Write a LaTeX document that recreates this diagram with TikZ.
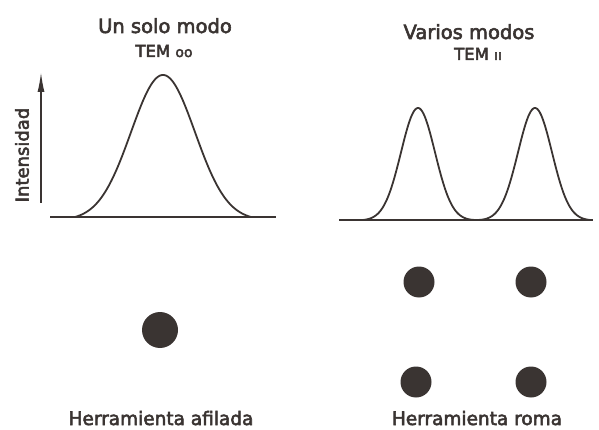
\documentclass[tikz,border=0pt]{standalone}
\usepackage{fontspec}
\setmainfont{DejaVu Sans}[FakeBold=3]
\usetikzlibrary{positioning,arrows.meta}
\definecolor{ink}{RGB}{58,52,50}

\begin{document}
\begin{tikzpicture}[x=1pt, y=-1pt, every node/.style={align=center, text=ink, inner sep=0pt},
    spot/.style={circle, fill=ink, inner sep=0pt}]
    \useasboundingbox (0,0) rectangle (599,430);

    \node[anchor=base, font=\fontsize{19.5}{20}\selectfont] (single) at (165,33) {Un solo modo};
    \node[anchor=base, font=\fontsize{16.5}{17}\selectfont] (singlemode) at (164,57) {TEM {\fontsize{14}{14}\selectfont oo}};
    \node[rotate=90, font=\fontsize{18}{18}\selectfont] (intensity) at (22,155) {Intensidad};
    \coordinate (axisbot) at (41,203);
    \coordinate (axistop) at (41,72);
    \draw[-{Latex[length=20pt,width=7pt]}, ink, line width=1.6pt] (axisbot) -- (axistop);

    \coordinate (leftA) at (50,217);
    \coordinate (leftB) at (276,217);
    \draw[ink, line width=1.8pt] (leftA) -- (leftB);
    \draw[ink, line width=1.8pt] plot[domain=7.5:25.1, samples=150, smooth]
        ({\x*10}, {217 - max(145.3*exp(-(\x-16.3)^2/20.48) - 3.3, 0)});

    \node[anchor=base, font=\fontsize{19.5}{20}\selectfont] (multi) at (469,39) {Varios modos};
    \node[anchor=base, font=\fontsize{16.5}{17}\selectfont] (multimode) at (478,60) {TEM {\fontsize{14}{14}\selectfont ıı}};

    \coordinate (rightA) at (339,220);
    \coordinate (rightB) at (593,220);
    \draw[ink, line width=1.8pt] (rightA) -- (rightB);
    \draw[ink, line width=1.8pt] plot[domain=36.3:59.0, samples=200, smooth]
        ({\x*10}, {220 - max(112.6*(exp(max(-(\x-41.8)^2/5.78,-15)) + exp(max(-(\x-53.5)^2/5.78,-15))) - 0.6, 0)});

    \node[spot, minimum size=36pt] (sharpspot) at (160,330) {};
    \node[spot, minimum size=31pt] (spotA) at (419,282) {};
    \node[spot, minimum size=31pt] (spotB) at (531,282) {};
    \node[spot, minimum size=31pt] (spotC) at (416,382) {};
    \node[spot, minimum size=31pt] (spotD) at (531,382) {};

    \node[anchor=base, font=\fontsize{18.5}{19}\selectfont] (sharp) at (161,425) {Herramienta afilada};
    \node[anchor=base, font=\fontsize{18.5}{19}\selectfont] (blunt) at (477,425) {Herramienta roma};
\end{tikzpicture}
\end{document}
